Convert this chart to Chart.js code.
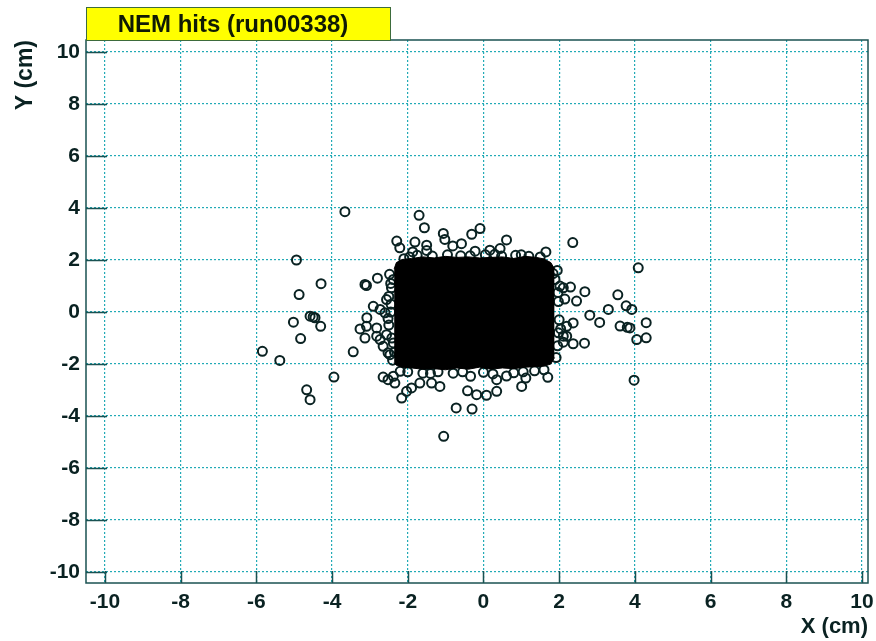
<!DOCTYPE html>
<html>
<head>
<meta charset="utf-8">
<title>NEM hits (run00338)</title>
<script src="https://cdn.jsdelivr.net/npm/chart.js@4.4.1/dist/chart.umd.min.js"></script>
<style>
	html, body { margin: 0; padding: 0; background: #fff; }
	canvas { display: block; }
</style>
</head>
<body>
<canvas id="nemChart" width="876" height="641"></canvas>
<script>
// tick values on both axes
const xTicks = [-10, -8, -6, -4, -2, 0, 2, 4, 6, 8, 10];
const yTicks = [-10, -8, -6, -4, -2, 0, 2, 4, 6, 8, 10];

// envelope of the saturated core of hits
const coreEdgeX   = [-2.36, -2.3, -2.15, -1.9, -1.6, -1.3, -1.0, -0.7, -0.4, -0.1, 0.2, 0.5, 0.8, 1.1, 1.4, 1.6, 1.78, 1.88];
const coreTopY    = [1.65, 1.9, 2.02, 2.06, 2.12, 2.08, 2.14, 2.1, 2.12, 2.08, 2.1, 2.12, 2.06, 2.14, 2.1, 2.04, 1.9, 1.65];
const coreBottomY = [-1.95, -2.05, -2.12, -2.15, -2.2, -2.18, -2.22, -2.15, -2.2, -2.12, -2.2, -2.15, -2.18, -2.12, -2.1, -2.08, -2.0, -1.75];

// single hits outside / on the edge of the core
const hitX = [
	-3.66, -1.70, -1.56, -1.06, -1.02, -0.09, -0.31, -2.29, -2.21, -1.81, -1.50, -1.50, -1.87, -0.81, -0.58, -0.22,
	0.17, 0.44, 0.61, 0.48, 1.65, 2.36, 4.09, -4.94, -4.29, -4.87, -4.58, -4.50, -4.45, -5.02, -4.30, -4.83,
	-5.84, -5.38, -3.95, -4.67, -4.58, -3.44, -2.80, -3.09, -3.13, -2.38, -2.43, -2.56, -2.91, -2.73, -3.08, -2.60,
	-3.26, -3.13, -3.09, -2.82, -2.73, -2.82, -2.65, -2.52, -2.38, -2.56, -2.47, -2.65, -2.52, -2.34, -2.38, -2.16,
	-2.03, -1.90, -1.68, -1.37, -1.15, -0.72, -0.30, -1.05, -0.42, -0.18, 0.08, 0.35, -0.34, 0.35, 0.61, 1.01,
	1.12, 1.70, 3.98, 2.11, 2.30, 2.68, 2.46, 2.15, 2.37, 2.20, 2.81, 3.07, 3.30, 3.55, 3.77, 3.92,
	3.61, 3.80, 3.87, 4.30, 4.05, 4.30, 2.37, 2.67, 2.11, 2.11, 1.84, 1.89, 1.98, 2.20,
	-2.10, -1.75, -1.35, -0.95, -0.60, 0.05, 0.85, 1.20, 1.50, -1.95, -0.35, 0.30, 1.00,
	-2.45, -2.50, -2.45, -2.50, -2.42, -2.35, -2.48, -2.44, -2.52, -2.40,
	1.95, 1.98, 2.00, 1.96, 1.92, 2.02, 1.97, 2.04,
	-2.00, -1.60, -1.20, -0.80, 0.00, 0.80, 1.35, -2.20, -1.40, -0.55, 0.25, 1.05, 1.60
];
const hitY = [
	3.86, 3.72, 3.24, 3.02, 2.79, 3.21, 2.99, 2.73, 2.47, 2.69, 2.57, 2.37, 2.31, 2.54, 2.63, 2.34,
	2.38, 2.44, 2.77, 2.15, 2.31, 2.67, 1.70, 2.00, 1.09, 0.67, -0.16, -0.19, -0.22, -0.39, -0.55, -1.02,
	-1.51, -1.86, -2.50, -2.99, -3.37, -1.53, 1.30, 1.02, 1.06, 1.25, 0.93, 0.48, 0.22, 0.10, -0.22, -0.03,
	-0.65, -1.00, -0.55, -0.61, -1.06, -0.93, -1.32, -1.57, -1.19, -0.87, -1.64, -2.50, -2.60, -2.73, -2.47, -3.31,
	-3.05, -2.92, -2.73, -2.73, -2.86, -3.69, -3.73, -4.78, -3.03, -3.18, -3.20, -3.05, -2.47, -2.60, -2.46, -2.86,
	-2.54, -2.51, -2.62, 0.93, 0.96, 0.78, 0.42, 0.50, -0.42, -0.55, -0.12, -0.40, 0.10, 0.66, 0.24, 0.10,
	-0.54, -0.59, -0.61, -0.41, -1.06, -0.99, -1.22, -1.20, -1.16, -0.93, 1.48, 1.25, -0.80, -0.93,
	2.05, 2.18, 2.15, 2.2, 2.16, 2.2, 2.18, 2.14, 2.12, 2.12, 2.16, 2.22, 2.2,
	1.10, 0.60, 0.00, -0.50, -1.00, -1.55, 1.45, 0.30, -0.25, -1.85,
	1.60, 0.40, -0.30, -1.30, -1.75, 1.00, 0.75, -0.65,
	-2.30, -2.35, -2.30, -2.35, -2.32, -2.34, -2.26, -2.28, -2.36, -2.30, -2.38, -2.30, -2.22
];

const inkColor = '#0a2222';
const frameColor = '#1a5252';
const gridColor = '#22aab6';
const fontFamily = '"Liberation Sans", Arial, Helvetica, sans-serif';

const frameAndTitle = {
	id: 'frameAndTitle',
	beforeDraw(chart) {
		const ctx = chart.ctx;
		ctx.save();
		ctx.fillStyle = '#ffffff';
		ctx.fillRect(0, 0, chart.width, chart.height);
		ctx.restore();
	},
	afterDraw(chart) {
		const ctx = chart.ctx;
		const area = chart.chartArea;
		const xs = chart.scales.x, ys = chart.scales.y;
		ctx.save();
		// inner ticks on left and bottom axes
		ctx.strokeStyle = frameColor;
		ctx.lineWidth = 1.5;
		ctx.beginPath();
		xTicks.forEach(v => {
			const px = Math.round(xs.getPixelForValue(v)) + 0.5;
			ctx.moveTo(px, area.bottom);
			ctx.lineTo(px, area.bottom - 12);
		});
		yTicks.forEach(v => {
			const py = Math.round(ys.getPixelForValue(v)) + 0.5;
			ctx.moveTo(area.left, py);
			ctx.lineTo(area.left + 21, py);
		});
		ctx.stroke();
		// frame
		ctx.strokeRect(area.left, area.top, area.right - area.left, area.bottom - area.top);
		// yellow title box
		ctx.fillStyle = '#ffff00';
		ctx.fillRect(area.left, 7, 304, area.top - 7);
		ctx.strokeStyle = '#3d6b3d';
		ctx.lineWidth = 1;
		ctx.strokeRect(area.left + 0.5, 7.5, 304, area.top - 7);
		ctx.fillStyle = '#101a05';
		ctx.font = 'bold 24px ' + fontFamily;
		ctx.textAlign = 'center';
		ctx.textBaseline = 'middle';
		ctx.fillText('NEM hits (run00338)', area.left + 147, 25);
		ctx.restore();
	}
};

function axisFont(size) {
	return { family: fontFamily, size: size, weight: 'bold' };
}

document.addEventListener('DOMContentLoaded', function()
{
	const ctx = document.getElementById('nemChart').getContext('2d');
	new Chart(ctx, {
		type: 'scatter',
		data: {
			datasets: [
				{
					type: 'line',
					label: 'core top',
					data: coreEdgeX.map((x, i) => ({ x: x, y: coreTopY[i] })),
					borderColor: '#000000',
					borderWidth: 1,
					backgroundColor: '#000000',
					pointRadius: 0,
					fill: '+1',
					tension: 0
				},
				{
					type: 'line',
					label: 'core bottom',
					data: coreEdgeX.map((x, i) => ({ x: x, y: coreBottomY[i] })),
					borderColor: '#000000',
					borderWidth: 1,
					backgroundColor: '#000000',
					pointRadius: 0,
					fill: false,
					tension: 0
				},
				{
					label: 'hits',
					data: hitX.map((x, i) => ({ x: x, y: hitY[i] })),
					pointStyle: 'circle',
					pointRadius: 4.5,
					pointBorderWidth: 2,
					pointBorderColor: inkColor,
					pointBackgroundColor: 'rgba(0,0,0,0)'
				}
			]
		},
		options: {
			responsive: false,
			animation: false,
			events: [],
			layout: { padding: { left: 0, top: 40, right: 8, bottom: 1 } },
			plugins: {
				legend: { display: false },
				tooltip: { enabled: false },
				title: { display: false }
			},
			scales: {
				x: {
					type: 'linear',
					min: -10.5,
					max: 10.16,
					afterBuildTicks: s => { s.ticks = xTicks.map(v => ({ value: v })); },
					afterFit: s => { s.height = 57; s.paddingLeft = 0; s.paddingRight = 0; },
					grid: { color: gridColor, lineWidth: 1.2, drawTicks: false },
					border: { display: false, dash: [2, 2] },
					ticks: { color: inkColor, font: axisFont(21), padding: 7, maxRotation: 0, autoSkip: false },
					title: { display: true, text: 'X (cm)', align: 'end', color: inkColor, font: axisFont(22), padding: { top: 0, bottom: 0 } }
				},
				y: {
					type: 'linear',
					min: -10.42,
					max: 10.46,
					afterBuildTicks: s => { s.ticks = yTicks.map(v => ({ value: v })); },
					afterFit: s => { s.width = 86; s.paddingTop = 0; s.paddingBottom = 0; },
					grid: { color: gridColor, lineWidth: 1.2, drawTicks: false },
					border: { display: false, dash: [2, 2] },
					ticks: { color: inkColor, font: axisFont(21), padding: 6, autoSkip: false },
					title: { display: true, text: 'Y (cm)', align: 'end', color: inkColor, font: axisFont(23), padding: { top: 12, bottom: 0 } }
				}
			}
		},
		plugins: [frameAndTitle]
	});
});
</script>
</body>
</html>
